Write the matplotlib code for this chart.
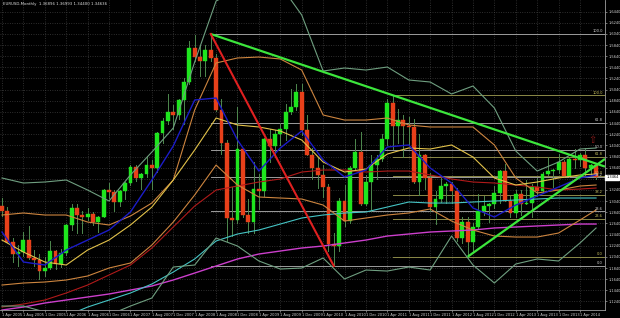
import matplotlib
matplotlib.use("Agg")
import matplotlib.pyplot as plt
from matplotlib.patches import Rectangle

# ---------------- data ----------------
first_month = -3          # Jan 2005 (Apr 2005 = 0)
opens = [1.3560,1.3040,1.3260,1.2960,1.2870,1.2300,1.2100,1.2120,1.2340,1.2020,1.1990,1.1790,
         1.1840,1.2150,1.1920,1.2110,1.2620,1.2920,1.2790,1.2760,1.2810,1.2670,1.2760,1.3240,
         1.3200,1.3020,1.3230,1.3360,1.3650,1.3450,1.3530,1.3680,1.3630,1.4260,1.4480,1.4630,
         1.4590,1.4860,1.5180,1.5790,1.5620,1.5550,1.5760,1.5600,1.4670,1.4080,1.2730,1.2700,
         1.3970,1.2800,1.2670,1.3250,1.3230,1.4150,1.4030,1.4250,1.4330,1.4640,1.4720,1.5000,
         1.4320,1.3870,1.3630,1.3510,1.3290,1.2270,1.2230,1.3050,1.2680,1.3630,1.3930,1.2990,
         1.3380,1.3690,1.3800,1.4160,1.4800,1.4390,1.4500,1.4390,1.4370,1.3390,1.3870,1.3450,
         1.2940,1.3080,1.3320,1.3340,1.3230,1.2370,1.2660,1.2300,1.2580,1.2860,1.2960,1.2990,
         1.3190,1.3580,1.3050,1.2820,1.3170,1.2990,1.3010,1.3300,1.3220,1.3520,1.3580,1.3590,
         1.3740,1.3490,1.3800,1.3770,1.3870,1.3630,1.3690]
highs = [1.3580,1.3290,1.3470,1.3090,1.2940,1.2380,1.2250,1.2480,1.2590,1.2170,1.2090,1.2040,
         1.2320,1.2170,1.2180,1.2630,1.2980,1.2980,1.2870,1.2910,1.2850,1.2780,1.3250,1.3370,
         1.3240,1.3240,1.3380,1.3680,1.3680,1.3540,1.3850,1.3780,1.4280,1.4530,1.4970,1.4760,
         1.4880,1.5250,1.5910,1.6020,1.5820,1.5840,1.6038,1.5680,1.4870,1.4140,1.3300,1.4720,
         1.4000,1.3070,1.3740,1.3520,1.4180,1.4340,1.4310,1.4450,1.4780,1.5060,1.5140,1.5140,
         1.4580,1.3990,1.3820,1.3690,1.3350,1.2470,1.3090,1.3330,1.3670,1.4160,1.4280,1.3500,
         1.3860,1.3860,1.4250,1.4880,1.4940,1.4700,1.4580,1.4550,1.4520,1.4250,1.3880,1.3550,
         1.3230,1.3490,1.3390,1.3380,1.3280,1.2750,1.2750,1.2640,1.3170,1.3140,1.3010,1.3310,
         1.3590,1.3710,1.3130,1.3240,1.3240,1.3420,1.3350,1.3450,1.3570,1.3830,1.3620,1.3890,
         1.3770,1.3820,1.3970,1.3900,1.3990,1.3700,1.3700]
lows = [1.2960,1.2730,1.2890,1.2770,1.2300,1.1950,1.1870,1.2060,1.2010,1.1870,1.1640,1.1700,
        1.1820,1.1830,1.1860,1.2070,1.2530,1.2460,1.2460,1.2710,1.2620,1.2480,1.2750,1.3100,
        1.2860,1.2960,1.3070,1.3330,1.3400,1.3260,1.3480,1.3260,1.3570,1.4080,1.4430,1.4330,
        1.4510,1.4430,1.5140,1.5560,1.5280,1.5290,1.5560,1.4660,1.3880,1.2330,1.2420,1.2650,
        1.2760,1.2460,1.2460,1.2890,1.3140,1.3750,1.3840,1.4050,1.4130,1.4610,1.4680,1.4220,
        1.3860,1.3440,1.3270,1.3110,1.2140,1.1876,1.2150,1.2590,1.2640,1.3610,1.2970,1.2970,
        1.2870,1.3430,1.3760,1.4050,1.3970,1.4080,1.3840,1.4050,1.3360,1.3150,1.3250,1.2860,
        1.2630,1.3030,1.3000,1.3000,1.2330,1.2290,1.2042,1.2130,1.2560,1.2800,1.2660,1.2920,
        1.3000,1.3040,1.2750,1.2750,1.2800,1.2990,1.2760,1.3130,1.3190,1.3500,1.3300,1.3540,
        1.3470,1.3480,1.3640,1.3670,1.3500,1.3500,1.3440]
closes = [1.3040,1.3260,1.2960,1.2870,1.2300,1.2100,1.2120,1.2340,1.2020,1.1990,1.1790,1.1840,
          1.2150,1.1920,1.2110,1.2620,1.2920,1.2790,1.2760,1.2810,1.2670,1.2760,1.3240,1.3200,
          1.3020,1.3230,1.3360,1.3650,1.3450,1.3530,1.3680,1.3630,1.4260,1.4480,1.4630,1.4590,
          1.4860,1.5180,1.5790,1.5620,1.5550,1.5760,1.5600,1.4670,1.4080,1.2730,1.2700,1.3970,
          1.2800,1.2670,1.3250,1.3230,1.4150,1.4030,1.4250,1.4330,1.4640,1.4720,1.5000,1.4320,
          1.3870,1.3630,1.3510,1.3290,1.2270,1.2230,1.3050,1.2680,1.3630,1.3930,1.2990,1.3380,
          1.3690,1.3800,1.4160,1.4800,1.4390,1.4500,1.4390,1.4370,1.3390,1.3870,1.3450,1.2940,
          1.3080,1.3320,1.3340,1.3230,1.2370,1.2660,1.2300,1.2580,1.2860,1.2960,1.2990,1.3190,
          1.3580,1.3050,1.2820,1.3170,1.2990,1.3010,1.3300,1.3220,1.3520,1.3580,1.3590,1.3740,
          1.3490,1.3800,1.3770,1.3870,1.3630,1.3690,1.3464]

# indicator lines sampled at these months (Apr 2005 = 0)
ind_months = [0,4,8,12,16,20,24,28,32,36,40,44,48,52,56,60,64,68,72,76,80,84,88,92,96,100,104,108,111]
ma_blue = [1.2486,1.1948,1.1894,1.2163,1.2342,1.2522,1.2845,1.3419,1.4029,1.4854,1.4890,1.4136,1.3580,1.3993,
           1.4298,1.3778,1.3473,1.3598,1.4011,1.4047,1.3634,1.3365,1.2917,1.2755,1.2970,1.3132,1.3293,1.3455,1.3509]
ma_yellow = [1.2342,1.2127,1.1948,1.1894,1.2163,1.2342,1.2612,1.2934,1.3419,1.3957,1.4531,1.4406,1.4370,1.4298,
             1.4136,1.3742,1.3562,1.3616,1.3885,1.3993,1.3975,1.4047,1.3831,1.3455,1.3329,1.3383,1.3455,1.3509,1.3527]
env_upper = [1.2791,1.2827,1.2791,1.2791,1.2665,1.2612,1.2773,1.3006,1.3419,1.4675,1.5518,1.5608,1.5625,1.5590,
             1.5392,1.4585,1.4495,1.4495,1.4531,1.4406,1.4370,1.4370,1.4370,1.4047,1.3455,1.3186,1.3239,1.3311,1.3329]
env_lower = [1.1535,1.1571,1.1589,1.1625,1.1697,1.1840,1.1930,1.2253,1.2665,1.3150,1.3688,1.3329,1.3114,1.3096,
             1.3078,1.2970,1.2683,1.2737,1.2791,1.2827,1.2899,1.2683,1.2522,1.2414,1.2396,1.2396,1.2468,1.2701,1.2881]
ma_red = [1.1140,1.1194,1.1266,1.1392,1.1535,1.1715,1.1894,1.2199,1.2576,1.2952,1.3239,1.3311,1.3383,1.3437,
          1.3562,1.3598,1.3598,1.3562,1.3580,1.3580,1.3509,1.3437,1.3383,1.3365,1.3329,1.3293,1.3239,1.3257,1.3275]
ma_cyan = [1.0728,1.0800,1.0871,1.0979,1.1140,1.1266,1.1392,1.1553,1.1768,1.2002,1.2325,1.2450,1.2522,1.2629,
           1.2737,1.2791,1.2827,1.2845,1.2934,1.3024,1.3006,1.3006,1.3024,1.3042,1.3060,1.3078,1.3096,1.3096,1.3096]
ma_magenta = [1.1087,1.1140,1.1212,1.1266,1.1320,1.1374,1.1445,1.1517,1.1625,1.1750,1.1876,1.2002,1.2091,1.2145,
              1.2199,1.2235,1.2289,1.2342,1.2414,1.2450,1.2486,1.2504,1.2522,1.2558,1.2576,1.2594,1.2612,1.2629,1.2629]
bb_upper = [1.3455,1.3365,1.3383,1.3419,1.3239,1.3042,1.3509,1.3921,1.4352,1.5536,1.6630,1.6827,1.7007,1.6917,
            1.6379,1.5374,1.5428,1.5392,1.5446,1.5213,1.5177,1.4962,1.5105,1.4711,1.3939,1.3580,1.3742,1.3975,1.3993]
bb_lower = [1.1158,1.1158,1.1051,1.0943,1.0943,1.0997,1.1158,1.1302,1.1858,1.1894,1.2378,1.2235,1.1966,1.1822,
            1.1840,1.2020,1.1643,1.1804,1.1786,1.1858,1.1804,1.2414,1.1894,1.1571,1.1912,1.2002,1.1966,1.2289,1.2558]

# trend lines (month, price) anchors
down_trend = [(39, 1.6038), (73, 1.4940)]      # ray to the right
fall_line = [(39, 1.6038), (62, 1.1876)]
up_trend = [(87, 1.2042), (111.4, 1.3710)]     # ray to the right

# Fibonacci retracements
fib_levels = [100.0, 61.8, 50.0, 38.2, 23.6, 0.0]
fib_white = {"start": 39, "high": 1.6038, "low": 1.1876}
fib_yellow = {"start": 73, "high": 1.4940, "low": 1.2042}

x_tick_months = list(range(0, 109, 4))
x_tick_labels = ["1 Apr 2005", "1 Aug 2005", "1 Dec 2005", "1 Apr 2006", "1 Aug 2006", "1 Dec 2006",
                 "1 Apr 2007", "1 Aug 2007", "1 Dec 2007", "1 Apr 2008", "1 Aug 2008", "1 Dec 2008",
                 "1 Apr 2009", "1 Aug 2009", "1 Dec 2009", "1 Apr 2010", "1 Aug 2010", "1 Dec 2010",
                 "1 Apr 2011", "1 Aug 2011", "1 Dec 2011", "1 Apr 2012", "1 Aug 2012", "1 Dec 2012",
                 "1 Apr 2013", "1 Aug 2013", "1 Dec 2013", "1 Apr 2014"]
price_ticks = [1.1240,1.1440,1.1640,1.1840,1.2040,1.2240,1.2440,1.2640,1.2840,1.3040,1.3240,1.3440,1.3640,
               1.3840,1.4040,1.4240,1.4440,1.4640,1.4840,1.5040,1.5240,1.5440,1.5640,1.5840,1.6040,1.6240,1.6440]
current_price = 1.3464
title_text = "EURUSD,Monthly  1.36896 1.36993 1.34400 1.34636"

# ---------------- figure ----------------
W, H = 620, 318
fig = plt.figure(figsize=(W / 100, H / 100), dpi=100, facecolor="black")
ax = fig.add_axes([0 / W, 8 / H, 605 / W, 310 / H], facecolor="black")
ax.set_xlim(-0.374, 112.67)
ax.set_ylim(1.1087, 1.6648)

grid_col = "#4a4a4a"
for m in x_tick_months:
    ax.axvline(m, color=grid_col, lw=0.5, ls=(0, (1.2, 2.2)), zorder=0)
for p in price_ticks:
    ax.axhline(p, color=grid_col, lw=0.5, ls=(0, (1.2, 2.2)), zorder=0)

# Fibonacci lines
def draw_fib(spec, col, txtcol):
    for lv in fib_levels:
        price = spec["low"] + (spec["high"] - spec["low"]) * lv / 100.0
        ax.plot([spec["start"], 112.67], [price, price], color=col, lw=0.7, zorder=1)
        ax.text(112.3, price + 0.0012, f"{lv:.1f}", color=txtcol, fontsize=2.6,
                ha="right", va="bottom", zorder=6)

draw_fib(fib_white, "#9c9c9c", "#cfcfcf")
draw_fib(fib_yellow, "#8c8a48", "#c8c060")

# candles
bull, bear, wick = "#1ee61e", "#e8401a", "#4f8a4f"
for k in range(len(opens)):
    m = first_month + k
    o, h, l, c = opens[k], highs[k], lows[k], closes[k]
    ax.plot([m, m], [l, h], color=wick, lw=0.7, zorder=2)
    col = bull if c >= o else bear
    bottom = min(o, c)
    height = max(abs(c - o), 0.0014)
    ax.add_patch(Rectangle((m - 0.36, bottom), 0.72, height, facecolor=col,
                           edgecolor=col, lw=0.3, zorder=3))

# indicator lines
lw = 0.8
ax.plot(ind_months, ma_magenta, color="#cc3fcc", lw=lw + 0.2, zorder=4)
ax.plot(ind_months, ma_cyan, color="#45c4c4", lw=lw, zorder=4)
ax.plot(ind_months, ma_red, color="#b01a1a", lw=lw, zorder=4)
ax.plot(ind_months, bb_upper, color="#6f9f80", lw=lw, zorder=4)
ax.plot(ind_months, bb_lower, color="#6f9f80", lw=lw, zorder=4)
ax.plot(ind_months, env_upper, color="#cd853f", lw=lw, zorder=4)
ax.plot(ind_months, env_lower, color="#cd853f", lw=lw, zorder=4)
ax.plot(ind_months, ma_yellow, color="#e2c24a", lw=lw, zorder=4)
ax.plot(ind_months, ma_blue, color="#1c1cc8", lw=lw + 0.2, zorder=4)

# trend lines
def ray(p0, p1, x_end=112.67):
    slope = (p1[1] - p0[1]) / (p1[0] - p0[0])
    return [p0[0], x_end], [p0[1], p0[1] + slope * (x_end - p0[0])]

xs, ys = ray(*down_trend)
ax.plot(xs, ys, color="#3ce63c", lw=1.6, zorder=5, solid_capstyle="butt")
xs, ys = ray(*up_trend)
ax.plot(xs, ys, color="#3ce63c", lw=1.6, zorder=5, solid_capstyle="butt")
ax.plot([fall_line[0][0], fall_line[1][0]], [fall_line[0][1], fall_line[1][1]],
        color="#e02020", lw=1.5, zorder=5)

# arrow symbol
ax.text(110.3, 1.4136, "\u21e7", color="#8b1a1a", fontsize=7, ha="center", va="center", zorder=6)

# axes styling
for s in ["left", "top"]:
    ax.spines[s].set_visible(False)
for s in ["right", "bottom"]:
    ax.spines[s].set_color("#a0a0a0")
    ax.spines[s].set_linewidth(0.6)
ax.yaxis.tick_right()
ax.set_yticks(price_ticks)
ax.set_yticklabels([f"{p:.4f}" if abs(p - current_price) > 0.006 else "" for p in price_ticks],
                   fontsize=2.6, color="#d0d0d0")
ax.set_xticks(x_tick_months)
ax.set_xticklabels(x_tick_labels, fontsize=2.6, color="#d0d0d0")
for lab in ax.get_xticklabels():
    lab.set_ha("left")
ax.tick_params(axis="both", length=1.5, width=0.5, color="#a0a0a0", pad=0.8)

# current price box
ax.text(1.0 + 1.2 / 605, current_price, f"{current_price:.4f}", transform=ax.get_yaxis_transform(),
        fontsize=2.6, color="black", ha="left", va="center", zorder=10,
        bbox=dict(boxstyle="square,pad=0.2", facecolor="white", edgecolor="white"))

fig.text(3 / W, 1 - 4 / H, title_text, fontsize=2.8, color="#e0e0e0", ha="left", va="center")

fig.savefig("out.png", dpi=100, facecolor="black")
